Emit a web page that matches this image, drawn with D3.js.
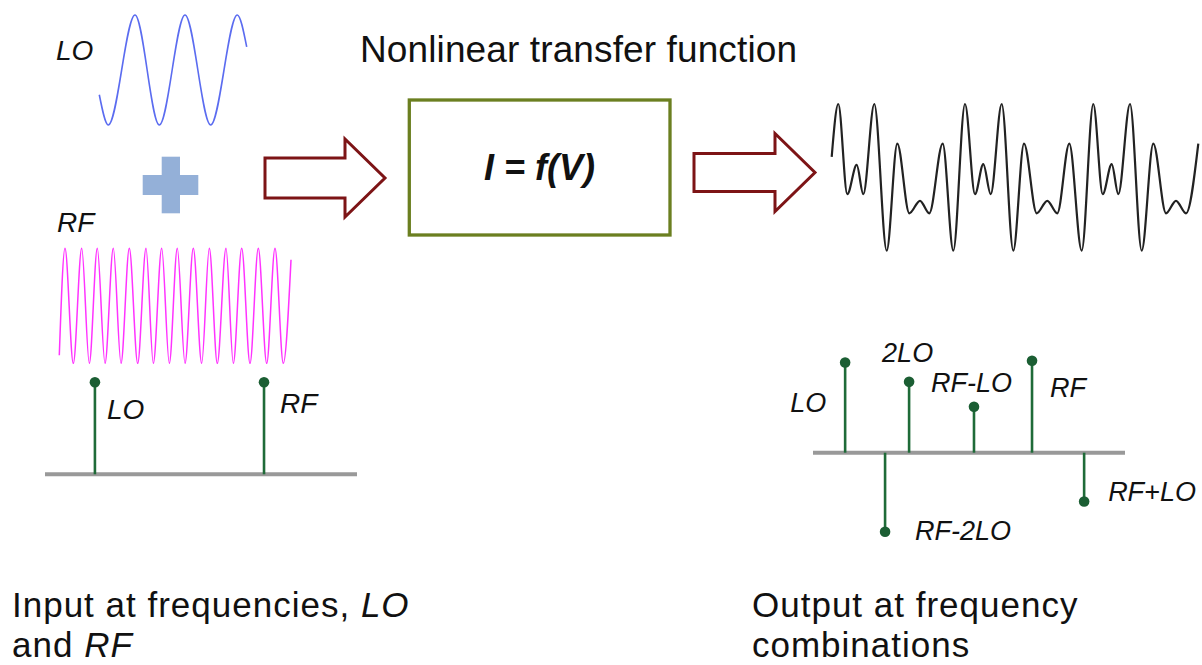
<!DOCTYPE html>
<html>
<head>
<meta charset="utf-8">
<script src="https://cdn.jsdelivr.net/npm/d3@7"></script>
<style>
  html, body { margin: 0; padding: 0; background: #fff; }
  svg { display: block; }
  text { font-family: "Liberation Sans", Arial, sans-serif; fill: #111; }
</style>
</head>
<body>
<svg id="chart" width="1202" height="665"></svg>
<script>
// ---------------- DATA ----------------
// LO input waveform: extrema (time units, normalized amplitude)
const loTime = [0, 9, 35.7, 60, 85.7, 111.4, 138, 147.4];
const loValue = [-0.45, -1, 1, -1, 1, -1, 1, 0.42];

// RF input waveform: extrema
const rfTime = [0, 5.7, 14, 22.4, 30, 38, 45.7, 54, 61.7, 70, 78.4, 86.7, 94, 102.4, 110, 118,
  125.7, 134, 142.4, 150, 158, 166.7, 174, 182.4, 190.7, 199, 207.4, 215.7, 224, 231.7];
const rfValue = [-0.86, 1, -1, 1, -1, 1, -1, 1, -1, 1, -1, 1, -1, 1, -1, 1,
  -1, 1, -1, 1, -1, 1, -1, 1, -1, 1, -1, 1, -1, 0.8];

// Output waveform: extrema
const outTime = [0, 6.6, 15.6, 25, 31.6, 42.6, 55, 65.6, 77.6, 88.3, 97.6, 111, 121.6,
  133.3, 143.3, 151.6, 159, 170, 181.6, 192.3, 205, 215.6, 225.6, 237.6, 250,
  261.6, 271, 280, 286.6, 298.3, 310, 321.6, 334.3, 344.3, 354.3, 366.6];
const outValue = [0.28, 1, -0.23, 0.17, -0.23, 1, -1, 0.46, -0.49, -0.32, -0.49, 0.46, -1,
  1, -0.23, 0.18, -0.23, 1, -1, 0.46, -0.49, -0.32, -0.49, 0.46, -1,
  1, -0.23, 0.18, -0.23, 1, -1, 0.46, -0.49, -0.32, -0.49, 0.46];

// Input spectrum
const inLabels = ["LO", "RF"];
const inFreq = [1.6, 7.02];
const inAmp = [1.0, 1.0];

// Output spectrum
const outLabels = ["LO", "RF-2LO", "2LO", "RF-LO", "RF", "RF+LO"];
const outFreq = [1.03, 2.31, 3.08, 5.16, 7.02, 8.69];
const outAmp = [0.98, -0.86, 0.77, 0.50, 1.0, -0.53];

// Texts
const titleText = "Nonlinear transfer function";
const formulaText = "I = f(V)";

// ---------------- DRAW ----------------
const svg = d3.select("#chart");

function wave(times, values, xr, yr, color, width) {
  const x = d3.scaleLinear().domain(d3.extent(times)).range(xr);
  const y = d3.scaleLinear().domain([-1, 1]).range(yr);
  const pts = times.map((t, i) => [t, values[i]]);
  const line = d3.line().x(d => x(d[0])).y(d => y(d[1])).curve(d3.curveMonotoneX);
  svg.append("path").attr("d", line(pts)).attr("fill", "none")
    .attr("stroke", color).attr("stroke-width", width).attr("stroke-linejoin", "round");
}

wave(loTime, loValue, [99.3, 246.7], [125, 15], "#5b6cf0", 1.6);
wave(rfTime, rfValue, [59.3, 291], [363.3, 248.3], "#ff33ff", 1.5);
wave(outTime, outValue, [831.7, 1198.3], [250.7, 104], "#222", 2.2);

// Labels near waves
svg.append("text").attr("x", 56).attr("y", 60).attr("font-size", 28).attr("font-style", "italic").text("LO");
svg.append("text").attr("x", 57).attr("y", 232).attr("font-size", 28).attr("font-style", "italic").text("RF");

// Plus sign
const plusColor = "#94b0d8";
svg.append("rect").attr("x", 161.7).attr("y", 156.7).attr("width", 18.3).attr("height", 56.6).attr("fill", plusColor);
svg.append("rect").attr("x", 142.7).attr("y", 175).attr("width", 55.6).attr("height", 20).attr("fill", plusColor);

// Arrows
function arrow(x0, x1, xh, yc, shaftH, headH) {
  const p = d3.path();
  p.moveTo(x0, yc - shaftH / 2);
  p.lineTo(xh, yc - shaftH / 2);
  p.lineTo(xh, yc - headH / 2);
  p.lineTo(x1, yc);
  p.lineTo(xh, yc + headH / 2);
  p.lineTo(xh, yc + shaftH / 2);
  p.lineTo(x0, yc + shaftH / 2);
  p.closePath();
  svg.append("path").attr("d", p.toString()).attr("fill", "#fff")
    .attr("stroke", "#7d1416").attr("stroke-width", 3).attr("stroke-linejoin", "miter");
}
arrow(265, 385, 345, 178, 40, 78);
arrow(694, 815, 775, 172.5, 38, 78);

// Transfer function box
svg.append("rect").attr("x", 409.3).attr("y", 100).attr("width", 260.7).attr("height", 135)
  .attr("fill", "#fff").attr("stroke", "#6b7f20").attr("stroke-width", 3.3);
svg.append("text").attr("x", 539.6).attr("y", 180).attr("text-anchor", "middle")
  .attr("font-size", 36).attr("font-weight", "bold").attr("font-style", "italic").text(formulaText);
svg.append("text").attr("x", 360).attr("y", 62).attr("font-size", 37).attr("textLength", 437).text(titleText);

// Spectra
const stemColor = "#1f6b38";
const dotColor = "#1b5e33";
function spectrum(freqs, amps, labels, x0, x1, y0, labelPos, fs) {
  const x = d3.scaleLinear().domain([0, 10]).range([x0, x1]);
  const y = d3.scaleLinear().domain([0, 1]).range([y0, y0 - 92]);
  svg.append("line").attr("x1", x0).attr("x2", x1).attr("y1", y0).attr("y2", y0)
    .attr("stroke", "#999").attr("stroke-width", 4);
  const g = svg.append("g");
  freqs.forEach((f, i) => {
    g.append("line").attr("x1", x(f)).attr("x2", x(f)).attr("y1", y(0)).attr("y2", y(amps[i]))
      .attr("stroke", stemColor).attr("stroke-width", 2.6);
    g.append("circle").attr("cx", x(f)).attr("cy", y(amps[i])).attr("r", 5.3).attr("fill", dotColor);
    const lp = labelPos[i];
    g.append("text").attr("x", x(f) + lp[0]).attr("y", y(amps[i]) + lp[1])
      .attr("font-size", fs).attr("font-style", "italic").text(labels[i]);
  });
}
spectrum(inFreq, inAmp, inLabels, 45, 357, 474.3, [[12, 37], [16, 31]], 28);
spectrum(outFreq, outAmp, outLabels, 813, 1125, 452.7,
  [[-55, 49], [30, 8], [-27, -20], [-43, -15], [18, 36], [24, 0]], 27);

// Bottom captions
const capSize = 35, capSpacing = 1;
const cap1 = svg.append("text").attr("x", 12).attr("y", 617).attr("font-size", capSize).attr("letter-spacing", capSpacing);
cap1.append("tspan").text("Input at frequencies, ");
cap1.append("tspan").attr("font-style", "italic").text("LO");
const cap2 = svg.append("text").attr("x", 12).attr("y", 657).attr("font-size", capSize).attr("letter-spacing", capSpacing);
cap2.append("tspan").text("and ");
cap2.append("tspan").attr("font-style", "italic").text("RF");
svg.append("text").attr("x", 752).attr("y", 617).attr("font-size", capSize).attr("letter-spacing", capSpacing).text("Output at frequency");
svg.append("text").attr("x", 752).attr("y", 657).attr("font-size", capSize).attr("letter-spacing", capSpacing).text("combinations");
</script>
</body>
</html>
